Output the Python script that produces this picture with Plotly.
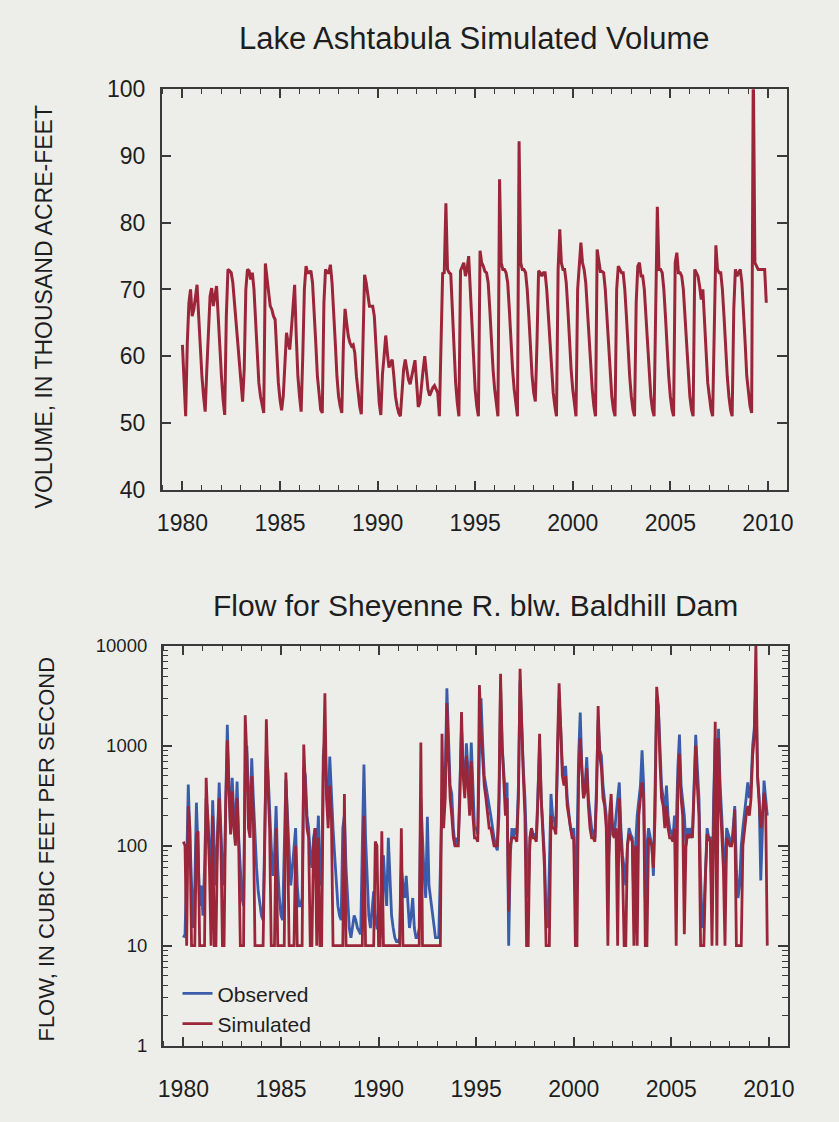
import plotly.graph_objects as go

# ---------------- data (monthly, Jan 1980 - Dec 2009) ----------------
START_YEAR = 1980
N_YEARS = 30

# Lake Ashtabula simulated volume, thousand acre-feet (Jan..Dec per line)
VOLUME_KAF = [
    61.7, 56, 51, 62, 68, 70, 66, 67, 69, 70.7, 66, 61,        # 1980
    57, 54, 51.7, 58, 65, 69, 70.2, 67.5, 69, 70.5, 66, 61,    # 1981
    57, 53.5, 51.2, 66, 73, 72.8, 72.5, 71, 68, 64, 61, 59.2,  # 1982
    56, 53.2, 58, 70, 73, 72.8, 71.5, 72.5, 70, 65, 60, 56,    # 1983
    54, 52.5, 51.5, 73.9, 72, 69.5, 67.5, 67, 66, 65.5, 60, 56,  # 1984
    53.5, 51.9, 54, 60, 63.5, 62, 61, 64, 68, 70.7, 63, 57,    # 1985
    54, 51.7, 60, 70, 73.5, 72.5, 72.5, 72.8, 71, 67, 62, 57,  # 1986
    54, 52, 51.5, 68, 73, 72.5, 72.5, 73.7, 71, 67, 62, 57,    # 1987
    54, 52.5, 51.5, 62, 67.1, 65, 63, 62, 61.5, 61.7, 60.5, 57,  # 1988
    54.5, 52.5, 51.3, 64, 72.2, 71, 69, 67.5, 67.5, 67.5, 66, 61,  # 1989
    56, 53, 51.2, 57.3, 60, 63.1, 60.5, 58.3, 59, 59.5, 57, 54,  # 1990
    52.5, 51.5, 51, 55, 58, 59.5, 58, 56.5, 55.8, 57, 58.5, 59.4,  # 1991
    56, 52.4, 53, 56, 58, 60, 57, 55, 54.1, 54.8, 55.3, 55.6,  # 1992
    55, 54.5, 51, 62, 72.4, 72.5, 82.9, 73, 72.5, 72.3, 66, 60,  # 1993
    56, 53, 51, 72.8, 73.5, 74, 72, 73, 75, 70, 64, 59,        # 1994
    55, 52.5, 51, 75.8, 74, 73.5, 72.7, 72.5, 71, 67, 62, 58,  # 1995
    55, 52.5, 51, 86.5, 74, 73, 73, 72.5, 71, 67, 62, 58,      # 1996
    55, 52.5, 51, 92.2, 74, 73, 73, 72.5, 70, 66, 61, 57,      # 1997
    54.5, 53.2, 62, 72.8, 72.5, 72, 72.5, 72.5, 70, 66, 61, 57,  # 1998
    54.5, 52.5, 51, 73, 79, 74, 73, 73, 71, 67, 62, 58,        # 1999
    55, 52.5, 51, 70, 73, 77, 74, 73, 71, 67, 62, 58,          # 2000
    55, 52.5, 51, 76, 74.5, 72.7, 72.7, 72.5, 70, 66, 61, 57,  # 2001
    54, 52, 51, 70, 73.5, 73, 72.5, 72.5, 70, 66, 61, 57,      # 2002
    54, 52, 51, 68, 73.5, 74, 72, 72, 70, 66, 61, 57,          # 2003
    54, 52, 51, 67, 82.4, 73, 73, 72.5, 70, 66, 61, 57,        # 2004
    54, 52, 51, 74, 75.5, 72.5, 72.5, 72, 70, 66, 61, 57,      # 2005
    54, 52, 51, 73, 72.5, 72, 70.5, 68.5, 70, 65, 60, 56,      # 2006
    54, 52, 51, 67, 76.6, 73, 72.5, 72.5, 70, 66, 61, 57,      # 2007
    54, 52, 51, 67, 73, 72, 72.5, 73, 71, 67, 62, 57,          # 2008
    54.5, 52.5, 51.5, 104, 74, 73.5, 73, 73, 73, 73, 73, 68,   # 2009
]

# Flow for Sheyenne R. below Baldhill Dam, cubic feet per second
OBSERVED_CFS = [
    12, 13, 60, 410, 120, 35, 15, 40, 270, 90, 25, 40,          # 1980
    20, 60, 300, 200, 90, 60, 285, 100, 40, 120, 430, 150,      # 1981
    60, 40, 300, 1630, 400, 150, 480, 200, 150, 440, 120, 60,   # 1982
    30, 25, 500, 1000, 300, 200, 750, 300, 120, 60, 35, 25,     # 1983
    20, 18, 150, 900, 560, 200, 100, 50, 80, 250, 60, 30,       # 1984
    20, 18, 100, 460, 200, 80, 40, 60, 100, 150, 40, 25,        # 1985
    25, 30, 610, 500, 200, 150, 80, 60, 120, 150, 80, 200,      # 1986
    50, 40, 800, 1200, 400, 200, 780, 300, 150, 80, 40, 25,     # 1987
    20, 18, 150, 200, 60, 30, 15, 12, 15, 20, 18, 15,           # 1988
    14, 13, 100, 650, 120, 40, 20, 15, 25, 35, 20, 15,          # 1989
    15, 12, 50, 80, 40, 25, 120, 40, 20, 15, 12, 11,            # 1990
    11, 12, 60, 40, 30, 50, 25, 15, 20, 30, 15, 12,             # 1991
    12, 15, 300, 100, 50, 30, 195, 40, 30, 20, 15, 12,          # 1992
    12, 12, 60, 300, 200, 500, 3770, 1000, 400, 330, 150, 100,  # 1993
    120, 110, 500, 1500, 600, 400, 1060, 500, 300, 1080, 300, 150,  # 1994
    150, 130, 800, 3000, 1080, 500, 400, 300, 250, 200, 150, 120,   # 1995
    100, 90, 200, 4000, 1000, 500, 300, 430, 10, 80, 150, 120,      # 1996
    150, 130, 400, 4500, 1500, 600, 300, 100, 30, 100, 150, 130,    # 1997
    130, 120, 400, 1000, 300, 150, 80, 20, 15, 60, 330, 200,        # 1998
    180, 150, 800, 3000, 1500, 630, 500, 630, 300, 200, 150, 130,   # 1999
    150, 30, 100, 800, 2150, 600, 300, 400, 770, 300, 200, 150,     # 2000
    130, 120, 400, 1800, 900, 800, 400, 300, 200, 60, 100, 200,     # 2001
    150, 130, 200, 300, 430, 150, 80, 60, 40, 100, 150, 130,        # 2002
    120, 25, 100, 200, 300, 400, 900, 400, 30, 100, 150, 120,       # 2003
    100, 50, 300, 3000, 2500, 800, 400, 300, 200, 400, 200, 150,    # 2004
    130, 120, 200, 150, 600, 1300, 400, 300, 200, 100, 150, 130,    # 2005
    150, 130, 400, 1290, 600, 300, 50, 15, 20, 60, 150, 120,        # 2006
    120, 22, 300, 1200, 200, 1480, 400, 200, 100, 40, 150, 130,     # 2007
    110, 100, 150, 250, 60, 30, 40, 100, 150, 200, 300, 430,        # 2008
    300, 400, 1000, 1500, 4200, 500, 300, 45, 200, 450, 300, 200,   # 2009
]

SIMULATED_CFS = [
    110, 100, 10, 250, 150, 10, 10, 10, 130, 140, 10, 10,       # 1980
    10, 10, 480, 150, 60, 10, 200, 10, 10, 130, 300, 120,       # 1981
    10, 10, 250, 1140, 300, 130, 350, 150, 100, 300, 100, 10,   # 1982
    10, 10, 2030, 800, 150, 120, 500, 200, 10, 10, 10, 10,      # 1983
    10, 10, 100, 1850, 400, 150, 10, 10, 10, 150, 10, 10,       # 1984
    10, 10, 10, 540, 150, 10, 10, 10, 10, 100, 10, 10,          # 1985
    10, 10, 1030, 400, 150, 120, 10, 10, 100, 150, 10, 120,     # 1986
    10, 10, 500, 3370, 300, 150, 400, 200, 10, 10, 10, 10,      # 1987
    10, 10, 10, 330, 10, 10, 10, 10, 10, 10, 10, 10,            # 1988
    10, 10, 10, 200, 10, 10, 10, 10, 10, 10, 110, 100,          # 1989
    10, 10, 140, 10, 10, 10, 10, 10, 10, 10, 10, 10,            # 1990
    10, 10, 150, 10, 10, 10, 10, 10, 10, 10, 10, 10,            # 1991
    10, 10, 1080, 10, 10, 10, 10, 10, 10, 10, 10, 10,           # 1992
    10, 10, 10, 1320, 150, 300, 2690, 800, 300, 200, 120, 100,  # 1993
    100, 100, 300, 2180, 500, 300, 800, 400, 200, 700, 200, 120,    # 1994
    120, 110, 4060, 1500, 800, 400, 300, 200, 150, 150, 120, 100,   # 1995
    100, 100, 300, 5270, 1000, 400, 200, 300, 22, 100, 120, 120,    # 1996
    120, 110, 300, 5900, 1500, 500, 200, 10, 10, 120, 150, 120,     # 1997
    120, 110, 300, 1320, 300, 150, 60, 10, 10, 10, 200, 150,        # 1998
    150, 130, 1000, 4240, 1500, 500, 400, 500, 250, 200, 150, 120,  # 1999
    120, 10, 10, 500, 1190, 500, 300, 350, 600, 250, 150, 120,      # 2000
    120, 110, 300, 2500, 800, 600, 300, 250, 150, 10, 200, 330,     # 2001
    130, 120, 150, 10, 300, 120, 60, 10, 10, 100, 130, 120,         # 2002
    110, 10, 100, 10, 200, 300, 430, 300, 10, 10, 120, 110,         # 2003
    100, 60, 200, 3900, 2500, 700, 300, 250, 150, 250, 150, 120,    # 2004
    120, 110, 150, 10, 400, 830, 300, 200, 13, 100, 130, 120,       # 2005
    130, 120, 300, 1000, 400, 200, 10, 10, 10, 50, 130, 120,        # 2006
    110, 10, 200, 1740, 10, 1200, 300, 150, 60, 10, 120, 110,       # 2007
    100, 100, 120, 230, 10, 10, 10, 10, 100, 150, 200, 250,         # 2008
    200, 300, 800, 1200, 11000, 500, 300, 150, 200, 340, 250, 10,   # 2009
]

YEAR_TICKS = [1980, 1985, 1990, 1995, 2000, 2005, 2010]
VOL_TICKS = [40, 50, 60, 70, 80, 90, 100]
FLOW_TICKS = [1, 10, 100, 1000, 10000]
FLOW_TICK_TEXT = ["1", "10", "100", "1000", "10000"]

# month positions as decimal years
TIME = [START_YEAR + i / 12 for i in range(N_YEARS * 12)]

# ---------------- styling ----------------
BG = "#edeeea"
RED = "#9c2639"
BLUE = "#3a5cab"
AXC = "#3a3a3a"
TXT = "#1e1e1e"
FONT = "Liberation Sans, Arial, sans-serif"
W, H = 839, 1122

def px_x(a, b):
    return [a / W, b / W]

def px_y(top, bottom):
    return [1 - bottom / H, 1 - top / H]

fig = go.Figure()
fig.add_trace(go.Scatter(x=TIME, y=VOLUME_KAF, mode="lines", xaxis="x", yaxis="y",
                         line=dict(color=RED, width=3), showlegend=False))
fig.add_trace(go.Scatter(x=TIME, y=OBSERVED_CFS, mode="lines", xaxis="x2", yaxis="y2",
                         name="Observed", line=dict(color=BLUE, width=2.8)))
fig.add_trace(go.Scatter(x=TIME, y=SIMULATED_CFS, mode="lines", xaxis="x2", yaxis="y2",
                         name="Simulated", line=dict(color=RED, width=2.8)))

common = dict(showline=True, linecolor=AXC, linewidth=1.5, mirror="ticks",
              ticks="inside", tickcolor=AXC, tickwidth=1.5, showgrid=False,
              zeroline=False, tickfont=dict(family=FONT, size=23, color=TXT))

xcommon = dict(common, range=[1978.94, 2010.96], tickvals=YEAR_TICKS, ticklen=9,
               minor=dict(dtick=1, ticks="inside", ticklen=5, tickcolor=AXC, tickwidth=1.2))

fig.update_layout(
    width=W, height=H,
    margin=dict(l=0, r=0, t=0, b=0),
    paper_bgcolor=BG, plot_bgcolor=BG,
    xaxis=dict(xcommon, domain=px_x(159, 793), anchor="y", ticklabelstandoff=12),
    yaxis=dict(common, domain=px_y(78, 488), anchor="x", range=[40, 100],
               tickvals=VOL_TICKS, ticklen=10, ticklabelstandoff=10),
    xaxis2=dict(xcommon, domain=px_x(160, 794), anchor="y2", ticklabelstandoff=22),
    yaxis2=dict(common, domain=px_y(648, 1057), anchor="x2", type="log", range=[0, 4],
                tickvals=FLOW_TICKS, ticktext=FLOW_TICK_TEXT, ticklen=10,
                ticklabelstandoff=10, tickfont=dict(family=FONT, size=18.5, color=TXT),
                minor=dict(dtick="D1", ticks="inside", ticklen=6, tickcolor=AXC, tickwidth=1.2)),
    legend=dict(x=175 / W, y=1 - 983 / H, xanchor="left", yanchor="top",
                bgcolor="rgba(0,0,0,0)", font=dict(family=FONT, size=21, color=TXT),
                itemwidth=30, tracegroupgap=0),
    annotations=[
        dict(text="Lake Ashtabula Simulated Volume", x=476 / W, y=1 - 26 / H,
             xref="paper", yref="paper", showarrow=False, xanchor="center", yanchor="middle",
             font=dict(family=FONT, size=31, color=TXT)),
        dict(text="Flow for Sheyenne R. blw. Baldhill Dam", x=477 / W, y=1 - 607 / H,
             xref="paper", yref="paper", showarrow=False, xanchor="center", yanchor="middle",
             font=dict(family=FONT, size=30, color=TXT)),
        dict(text="VOLUME, IN THOUSAND ACRE-FEET", x=40 / W, y=1 - 301 / H,
             xref="paper", yref="paper", showarrow=False, textangle=-90,
             xanchor="center", yanchor="middle",
             font=dict(family=FONT, size=23, color=TXT)),
        dict(text="FLOW, IN CUBIC FEET PER SECOND", x=42 / W, y=1 - 856 / H,
             xref="paper", yref="paper", showarrow=False, textangle=-90,
             xanchor="center", yanchor="middle",
             font=dict(family=FONT, size=22, color=TXT)),
    ],
)

fig.write_html("out.html")
